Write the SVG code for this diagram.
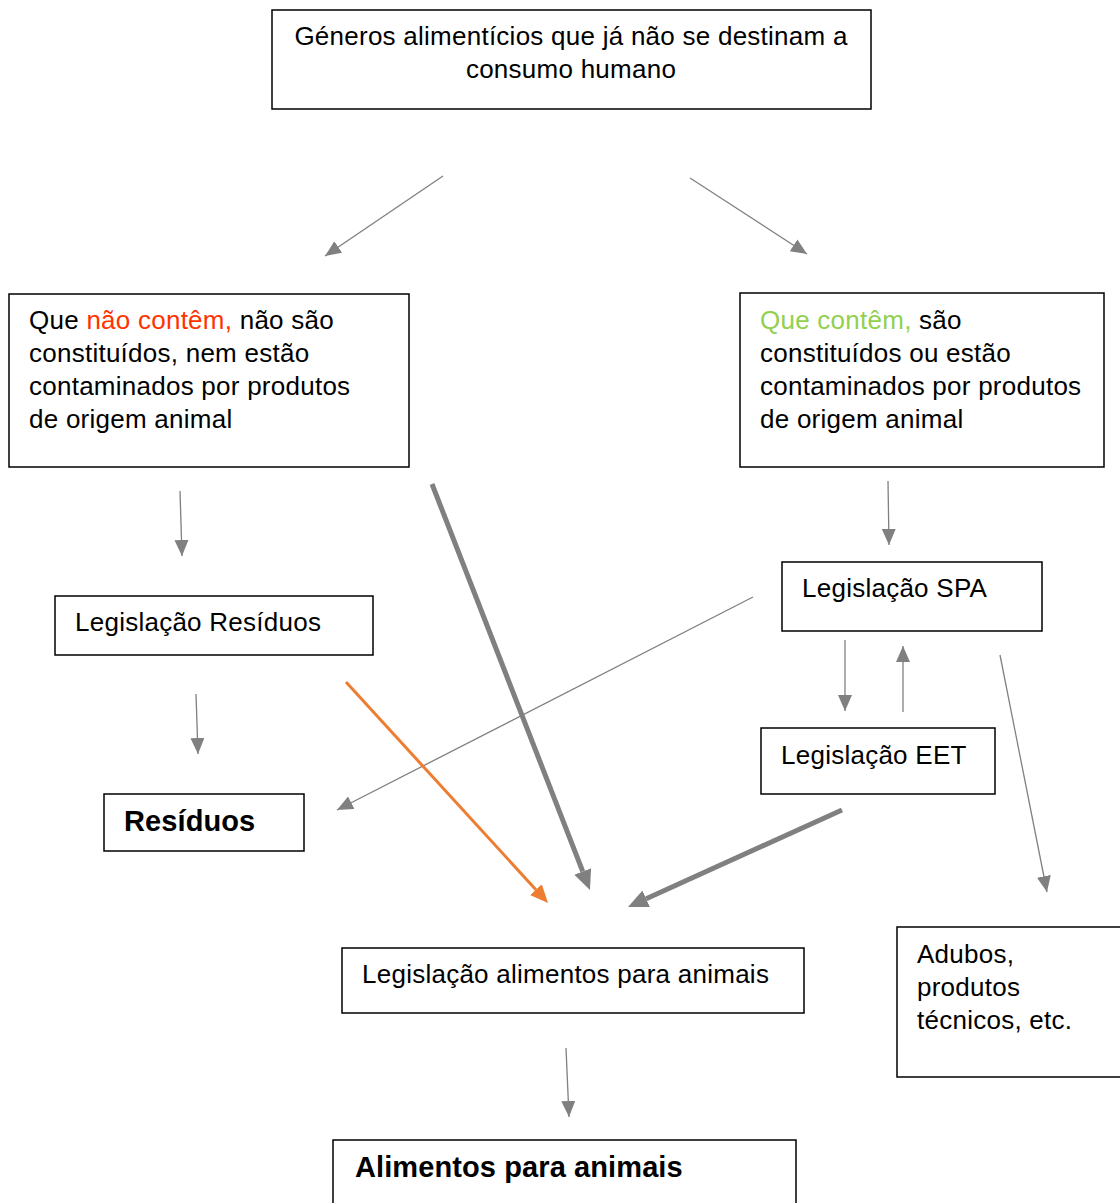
<svg xmlns="http://www.w3.org/2000/svg" width="1120" height="1203" viewBox="0 0 1120 1203">
<style>
.box{fill:#fff;stroke:#000;stroke-width:1.5}
.t{font-family:"Liberation Sans",Arial,sans-serif;font-size:26px;letter-spacing:0.25px;fill:#000}
.b{font-weight:bold;font-size:29px;letter-spacing:0.1px}
.thin{stroke:#808080;stroke-width:1.3;fill:none}
.thick{stroke:#808080;stroke-width:5;fill:none}
.or{stroke:#ED7D31;stroke-width:3;fill:none}
</style>
<defs>
<marker id="ah" markerUnits="userSpaceOnUse" markerWidth="18" markerHeight="16" refX="16" refY="7" orient="auto"><path d="M0,0 L16,7 L0,14 z" fill="#808080"/></marker>
<marker id="ahb" markerUnits="userSpaceOnUse" markerWidth="22" markerHeight="20" refX="0" refY="9" orient="auto"><path d="M0,0 L20,9 L0,18 z" fill="#808080"/></marker>
<marker id="aho" markerUnits="userSpaceOnUse" markerWidth="20" markerHeight="18" refX="0" refY="8" orient="auto"><path d="M0,0 L18,8 L0,16 z" fill="#ED7D31"/></marker>
</defs>
<rect width="1120" height="1203" fill="#fff"/>
<g id="top"><rect class="box" x="272" y="10" width="599" height="99"/>
<text class="t" x="571" y="45" text-anchor="middle">Géneros alimentícios que já não se destinam a</text>
<text class="t" x="571" y="78" text-anchor="middle">consumo humano</text></g>
<g id="nao"><rect class="box" x="9" y="294" width="400" height="173"/>
<text class="t" x="29" y="329">Que <tspan fill="#FF3300">não contêm,</tspan> não são</text>
<text class="t" x="29" y="362">constituídos, nem estão</text>
<text class="t" x="29" y="395">contaminados por produtos</text>
<text class="t" x="29" y="428">de origem animal</text></g>
<g id="sim"><rect class="box" x="740" y="293" width="364" height="174"/>
<text class="t" x="760" y="329"><tspan fill="#92D050">Que contêm,</tspan> são</text>
<text class="t" x="760" y="362">constituídos ou estão</text>
<text class="t" x="760" y="395">contaminados por produtos</text>
<text class="t" x="760" y="428">de origem animal</text></g>
<g id="legres"><rect class="box" x="55" y="596" width="318" height="59"/>
<text class="t" x="75" y="631">Legislação Resíduos</text></g>
<g id="residuos"><rect class="box" x="104" y="794" width="200" height="57"/>
<text class="t b" x="124" y="831">Resíduos</text></g>
<g id="spa"><rect class="box" x="782" y="562" width="260" height="69"/>
<text class="t" x="802" y="597">Legislação SPA</text></g>
<g id="eet"><rect class="box" x="761" y="728" width="234" height="66"/>
<text class="t" x="781" y="764">Legislação EET</text></g>
<g id="legal"><rect class="box" x="342" y="948" width="462" height="65"/>
<text class="t" x="362" y="983">Legislação alimentos para animais</text></g>
<g id="adubos"><rect class="box" x="897" y="927" width="230" height="150"/>
<text class="t" x="917" y="963">Adubos,</text>
<text class="t" x="917" y="996">produtos</text>
<text class="t" x="917" y="1029">técnicos, etc.</text></g>
<g id="alimentos"><rect class="box" x="333" y="1140" width="463" height="70"/>
<text class="t b" x="355" y="1177">Alimentos para animais</text></g>
<g id="connectors">
<line class="thin" x1="443" y1="176" x2="325" y2="256" marker-end="url(#ah)"/>
<line class="thin" x1="690" y1="178" x2="807" y2="254" marker-end="url(#ah)"/>
<line class="thin" x1="180" y1="491" x2="182" y2="556" marker-end="url(#ah)"/>
<line class="thin" x1="196" y1="694" x2="198" y2="754" marker-end="url(#ah)"/>
<line class="thin" x1="888" y1="481" x2="889" y2="545" marker-end="url(#ah)"/>
<line class="thin" x1="753" y1="597" x2="337" y2="810" marker-end="url(#ah)"/>
<line class="thin" x1="845" y1="640" x2="845" y2="711" marker-end="url(#ah)"/>
<line class="thin" x1="903" y1="712" x2="903" y2="646" marker-end="url(#ah)"/>
<line class="thin" x1="1000" y1="655" x2="1047" y2="892" marker-end="url(#ah)"/>
<line class="thin" x1="566" y1="1048" x2="569" y2="1117" marker-end="url(#ah)"/>
<line class="thick" x1="432" y1="484" x2="582.7" y2="871.4" marker-end="url(#ahb)"/>
<line class="thick" x1="842" y1="810" x2="646.2" y2="898.7" marker-end="url(#ahb)"/>
<line class="or" x1="346" y1="682" x2="535.9" y2="889.7" marker-end="url(#aho)"/>
</g>
</svg>
